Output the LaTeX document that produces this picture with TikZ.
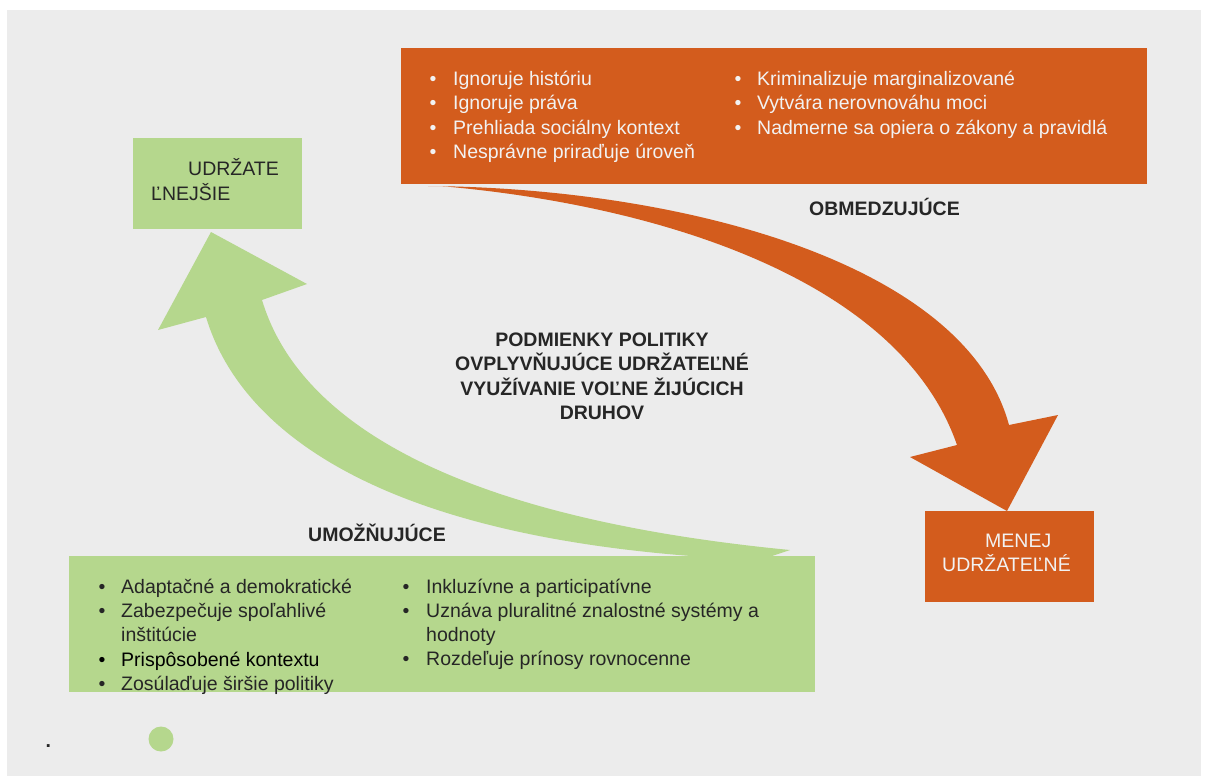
\documentclass[tikz,border=0pt]{standalone}
\usepackage{fontspec}
\setmainfont{Liberation Sans}
\definecolor{bggray}{HTML}{ECECEC}
\definecolor{orng}{HTML}{D35C1D}
\definecolor{grn}{HTML}{B5D78D}
\definecolor{darktxt}{HTML}{262626}
\definecolor{lighttxt}{HTML}{F2F2F2}

\begin{document}
\begin{tikzpicture}[x=1pt, y=-1pt,
  listtxt/.style={anchor=base west, inner sep=0pt, font=\fontsize{19.5}{23.4}\selectfont},
  bul/.style={anchor=base, inner sep=0pt, font=\fontsize{19.5}{23.4}\selectfont},
  headtxt/.style={anchor=base, inner sep=0pt, text=darktxt, font=\fontsize{19.5}{23.4}\selectfont\bfseries},
  panel/.style={anchor=north west, inner sep=0pt}]

\useasboundingbox (0,0) rectangle (1206,779);
\fill[bggray] (7,10) rectangle (1201,776);

% orange arrow
\coordinate (oTail) at (428,186);
\coordinate (oOut) at (1009,425);
\coordinate (oIn) at (957,445);
\coordinate (oBarbL) at (910,457);
\coordinate (oTip) at (1007,511);
\coordinate (oBarbR) at (1058,415);
\fill[orng] (oTail) .. controls (680,188) and (965,262) .. (oOut) -- (oBarbR) -- (oTip)
  -- (oBarbL) -- (oIn) .. controls (900,280) and (660,205) .. (440,186) -- cycle;

% green arrow
\coordinate (gTail) at (790,550);
\coordinate (gOut) at (206,317);
\coordinate (gIn) at (262,300);
\coordinate (gBarbL) at (158,330);
\coordinate (gTip) at (211,232);
\coordinate (gBarbR) at (307,284);
\fill[grn] (gTail) .. controls (430,515) and (295,410) .. (gIn) -- (gBarbR) -- (gTip)
  -- (gBarbL) -- (gOut) .. controls (240,430) and (380,545) .. (760,560) -- cycle;

\node[panel, fill=orng, minimum width=746pt, minimum height=136pt] (restrict) at (401,48) {};
\node[panel, fill=grn, minimum width=746pt, minimum height=136pt] (enable) at (69,556) {};
\node[panel, fill=grn, minimum width=169pt, minimum height=91pt] (more) at (133,138) {};
\node[panel, fill=orng, minimum width=169pt, minimum height=91pt] (less) at (925,511) {};

\node[listtxt, text=darktxt] (more1) at (188,175) {UDRŽATE};
\node[listtxt, text=darktxt] (more2) at (151,200) {ĽNEJŠIE};
\node[listtxt, text=lighttxt] (less1) at (985,547) {MENEJ};
\node[listtxt, text=lighttxt] (less2) at (942,571.7) {UDRŽATEĽNÉ};

\foreach \txt [count=\i from 0] in {Ignoruje históriu, Ignoruje práva,
    Prehliada sociálny kontext, Nesprávne priraďuje úroveň}{
  \node[bul, text=lighttxt] (rb\i) at (433,85+24.5*\i) {\textbullet};
  \node[listtxt, text=lighttxt] (ra\i) at (453,85+24.5*\i) {\txt};
}
\foreach \txt [count=\i from 0] in {Kriminalizuje marginalizované, Vytvára nerovnováhu moci,
    Nadmerne sa opiera o zákony a pravidlá}{
  \node[bul, text=lighttxt] (rd\i) at (738,85+24.5*\i) {\textbullet};
  \node[listtxt, text=lighttxt] (rc\i) at (757,85+24.5*\i) {\txt};
}

\foreach \y/\txt [count=\i] in {593.5/Adaptačné a demokratické, 617.7/Zabezpečuje spoľahlivé,
    690/Zosúlaďuje širšie politiky}{
  \node[bul, text=darktxt] (eb\i) at (102,\y) {\textbullet};
  \node[listtxt, text=darktxt] (ea\i) at (121,\y) {\txt};
}
\node[listtxt, text=darktxt] (ea4) at (121,641.7) {inštitúcie};
\node[bul, text=black] (eb5) at (102,666) {\textbullet};
\node[listtxt, text=black] (ea5) at (121,666) {Prispôsobené kontextu};

\foreach \y/\txt [count=\i] in {593.5/Inkluzívne a participatívne,
    617.7/Uznáva pluralitné znalostné systémy a, 665.8/Rozdeľuje prínosy rovnocenne}{
  \node[bul, text=darktxt] (fb\i) at (406,\y) {\textbullet};
  \node[listtxt, text=darktxt] (fa\i) at (426,\y) {\txt};
}
\node[listtxt, text=darktxt] (fa4) at (426,641.7) {hodnoty};

\foreach \txt [count=\i from 0] in {PODMIENKY POLITIKY, OVPLYVŇUJÚCE UDRŽATEĽNÉ,
    VYUŽÍVANIE VOĽNE ŽIJÚCICH, DRUHOV}{
  \node[headtxt] (title\i) at (602,346+24.6*\i) {\txt};
}
\node[headtxt, anchor=base west] (limitLbl) at (809,215) {OBMEDZUJÚCE};
\node[headtxt, anchor=base west] (enableLbl) at (308,541.7) {UMOŽŇUJÚCE};

\fill[grn] (161,739) circle (12.5pt);
\node[headtxt, anchor=base west] (dot) at (45.5,747.5) {.};

\end{tikzpicture}
\end{document}
